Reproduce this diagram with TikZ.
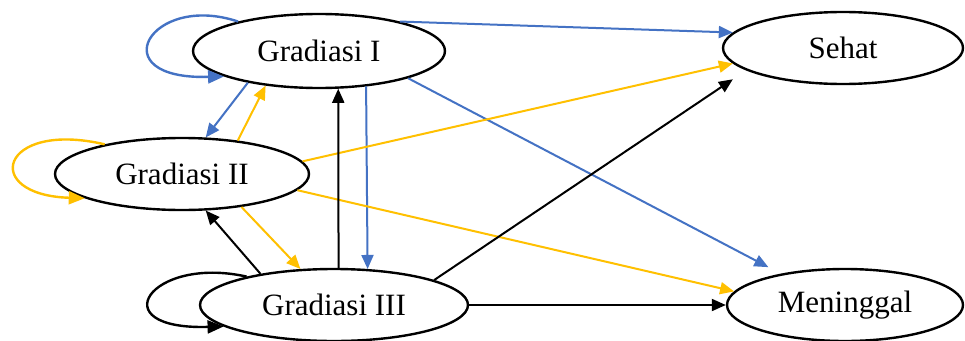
\documentclass[tikz,border=0pt]{standalone}
\usepackage{fontspec}
\setmainfont{Liberation Serif}
\usetikzlibrary{shapes.geometric,arrows.meta,calc}
\definecolor{cblue}{HTML}{4472C4}
\definecolor{cyel}{HTML}{FFC000}
\begin{document}
\begin{tikzpicture}[x=1pt,y=-1pt,
  state/.style={ellipse,draw=black,line width=2.4pt,fill=white,inner sep=0pt,
    font=\fontsize{31}{37}\selectfont},
  conn/.style={line width=2pt,-{Triangle[length=14pt,width=12pt]}},
  loopconn/.style={line width=2.4pt,-{Triangle[length=16pt,width=13pt]}}]
\useasboundingbox (0,0) rectangle (965,340);
\fill[white] (0,0) rectangle (965,340);
% states
\node[state,minimum width=252pt,minimum height=74pt] (g1) at (319,51) {Gradiasi I};
\node[state,minimum width=254pt,minimum height=72pt] (g2) at (182,174) {Gradiasi II};
\node[state,minimum width=268pt,minimum height=72pt] (g3) at (334,305) {Gradiasi III};
\node[state,minimum width=240pt,minimum height=72pt] (se) at (843,48) {Sehat};
\node[state,minimum width=236pt,minimum height=72pt] (me) at (845,305) {Meninggal};
% blue (from Gradiasi I)
\draw[loopconn,cblue] (g1.160) .. controls (150,-8) and (100,80) .. (g1.195);
\draw[conn,cblue] (g1.20) -- (se.172);
\draw[conn,cblue] (g1.204) -- (g2.57);
\draw[conn,cblue] (g1.323.9) -- (g3.47.5);
\draw[conn,cblue,shorten >=14pt] (g1.343.8) -- (me.154.8);
% yellow (from Gradiasi II)
\draw[loopconn,cyel] (g2.159) .. controls (0,120) and (-20,195) .. (g2.194);
\draw[conn,cyel] (g2.31.7) -- (g1.213.5);
\draw[conn,cyel] (g2.6.4) -- (se.188);
\draw[conn,cyel] (g2.331) -- (g3.133);
\draw[conn,cyel] (g2.352.8) -- (me.173);
% black (from Gradiasi III)
\draw[loopconn,black] (g3.162.6) .. controls (150,255) and (100,330) .. (g3.191.6);
\draw[conn,black] (g3.157) -- (g2.303);
\draw[conn,black] (g3.83.7) -- (g1.297.4);
\draw[conn,black,shorten >=16pt] (g3.14) -- (se.193.7);
\draw[conn,black] (g3.0) -- (me.180);
\end{tikzpicture}
\end{document}
